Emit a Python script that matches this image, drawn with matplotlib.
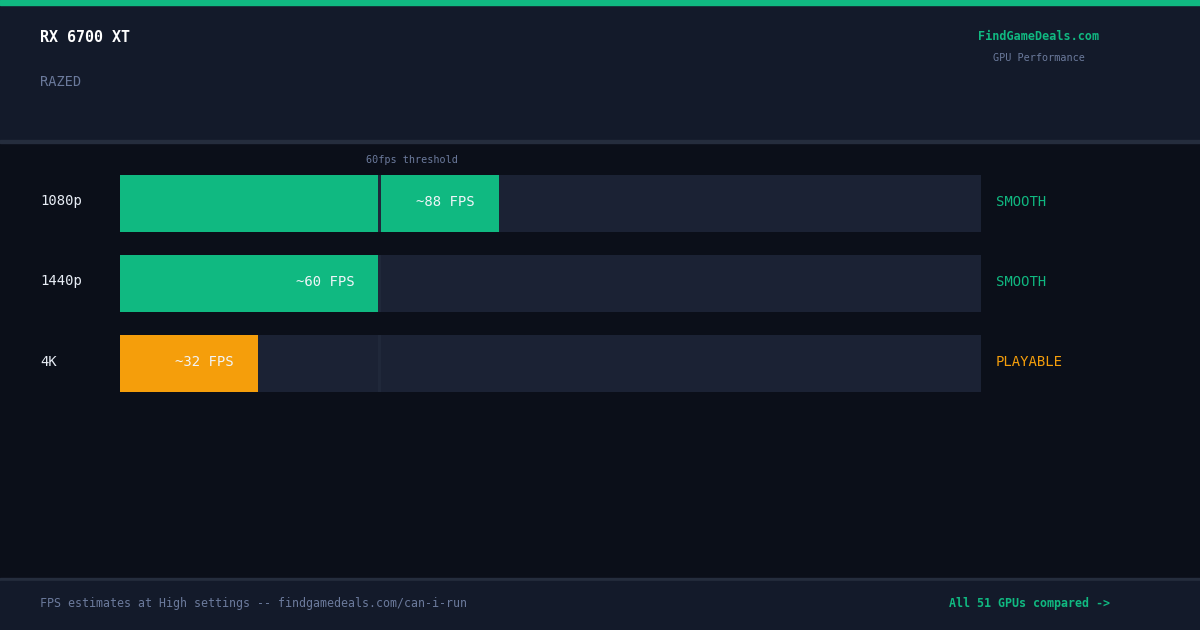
import matplotlib
matplotlib.use("Agg")
import matplotlib.pyplot as plt
import matplotlib.patches as patches

# data
gpu_name = "RX 6700 XT"
game_name = "RAZED"
resolutions = ["1080p", "1440p", "4K"]
fps_values = [88, 60, 32]
status_labels = ["SMOOTH", "SMOOTH", "PLAYABLE"]
fps_max = 200
threshold = 60

W, H = 1200, 630
GREEN = "#10b981"
ORANGE = "#f59e0b"
BG = "#0b0f19"
PANEL = "#131a2a"
SEP = "#252d3d"
TRACK = "#1b2234"
LIGHT = "#e8edf5"
GRAY = "#6b7a9c"

plt.rcParams['font.family'] = ['DejaVu Sans Mono', 'DejaVu Sans']

fig = plt.figure(figsize=(12, 6.3), dpi=100)
fig.patch.set_facecolor(BG)

def fx(x):
    return x / W
def fy(y):
    return 1 - y / H

def band(y0, y1, color):
    fig.patches.append(patches.Rectangle((0, fy(y1)), 1, (y1 - y0) / H,
                                         transform=fig.transFigure, color=color, zorder=0))

# header / footer panels
band(0, 140, PANEL)
band(140, 143, SEP)
band(0, 5, GREEN)
band(578, 581, SEP)
band(581, 630, PANEL)

fig.text(fx(40), fy(37), gpu_name, color="#ffffff", fontsize=10.8, fontweight="bold",
         ha="left", va="center")
fig.text(fx(40), fy(82), game_name, color=GRAY, fontsize=9.8, ha="left", va="center")
fig.text(fx(1039), fy(36), "FindGameDeals.com", color=GREEN, fontsize=8.5, fontweight="bold",
         ha="center", va="center")
fig.text(fx(1039), fy(58), "GPU Performance", color=GRAY, fontsize=7.3, ha="center",
         va="center")
fig.text(fx(40), fy(604), "FPS estimates at High settings -- findgamedeals.com/can-i-run",
         color=GRAY, fontsize=8.35, ha="left", va="center")
fig.text(fx(949), fy(604), "All 51 GPUs compared ->", color=GREEN, fontsize=8.4,
         fontweight="bold", ha="left", va="center")

# bars
bar_h = 57 / 80
top, bottom = 175, 392
track_px = 981 - 120
ax = fig.add_axes([fx(120), fy(bottom), track_px / W, (bottom - top) / H])
ax.set_facecolor(BG)
n = len(resolutions)
ypos = list(range(n))
ax.set_xlim(0, fps_max)
ax.set_ylim(n - 1 + bar_h / 2, -bar_h / 2)
ax.axis("off")

ax.barh(ypos, [fps_max] * n, height=bar_h, color=TRACK, zorder=1)
colors = [GREEN if f >= threshold else ORANGE for f in fps_values]
ax.barh(ypos, fps_values, height=bar_h, color=colors, zorder=2)

# threshold marker (3px wide), only inside each track
marker_w = 3 * fps_max / track_px
ax.barh(ypos, [marker_w] * n, left=threshold, height=bar_h, color="#20283a", zorder=3)
ax.annotate("60fps threshold", xy=(threshold, -bar_h / 2), xytext=(34, 15),
            textcoords="offset pixels", color=GRAY, fontsize=7.3, ha="center",
            va="center", annotation_clip=False)

for i, (res, fps, st) in enumerate(zip(resolutions, fps_values, status_labels)):
    ax.annotate(res, xy=(0, i), xytext=(-80, 2), textcoords="offset pixels",
                color=LIGHT, fontsize=10, ha="left", va="center", annotation_clip=False)
    ax.annotate("~%d FPS" % fps, xy=(fps, i), xytext=(-24, 2), textcoords="offset pixels",
                color="#f1f5f9", fontsize=10, ha="right", va="center", zorder=4)
    ax.annotate(st, xy=(fps_max, i), xytext=(15, 2), textcoords="offset pixels",
                color=colors[i], fontsize=10, ha="left", va="center",
                annotation_clip=False)

fig.savefig("out.png", dpi=100, facecolor=BG)
